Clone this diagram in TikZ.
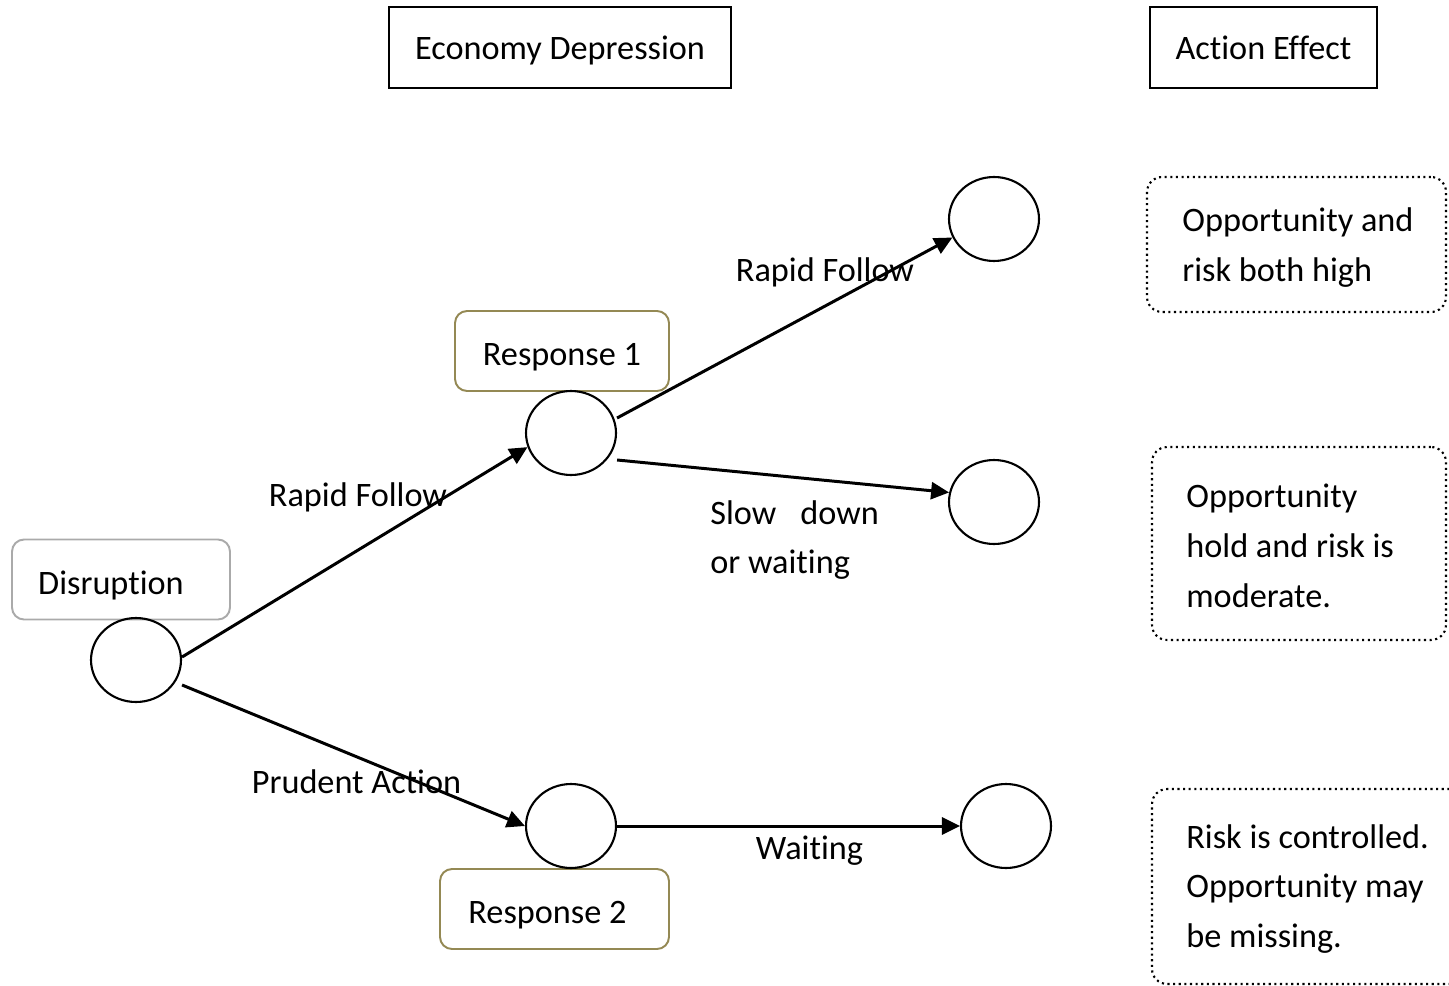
\documentclass[tikz,border=0pt]{standalone}
\usepackage{fontspec}
\setmainfont{Carlito}[Ligatures=NoCommon]
\usetikzlibrary{shapes.geometric,arrows.meta}
\definecolor{olivebox}{RGB}{148,137,84}
\definecolor{graybox}{RGB}{170,170,170}
\newcommand{\nolig}{\kern0pt}

\begin{document}
\begin{tikzpicture}[x=0.02cm,y=-0.02cm,
    every node/.style={font=\fontsize{19.5}{28.4}\selectfont},
    state/.style={draw,ellipse,line width=1.2pt,minimum width=1.8cm,minimum height=1.68cm,inner sep=0pt},
    titlebox/.style={draw,line width=1.1pt,minimum height=1.62cm,text height=15pt,text depth=1pt},
    tagbox/.style={draw,rounded corners=0.24cm,line width=1.1pt,minimum height=1.6cm,text height=17pt,text depth=0pt},
    effectbox/.style={draw,dotted,rounded corners=0.3cm,line width=1.2pt},
    efftext/.style={anchor=west,align=left,inner sep=0pt},
    flow/.style={line width=1.7pt,-{Triangle[length=0.36cm,width=0.34cm]}}]
  \clip (0,0) rectangle (1449,986);

  \node[titlebox,minimum width=6.84cm] (econ) at (560,47.5) {Economy Depression};
  \node[titlebox,minimum width=4.54cm] (effect) at (1263.5,47.5) {Act\nolig ion Effect};

  \node[tagbox,graybox,text=black,minimum width=4.36cm] (disbox) at (121,579.5) {Disruption\hspace{0.4cm}\mbox{}};
  \node[tagbox,olivebox,text=black,minimum width=4.28cm] (r1box) at (562,351) {Response 1};
  \node[tagbox,olivebox,text=black,minimum width=4.58cm] (r2box) at (554.5,909) {Response 2\hspace{0.28cm}\mbox{}};

  \node[state] (dis) at (136,660) {};
  \node[state] (r1) at (571,433) {};
  \node[state] (r2) at (571,826) {};
  \node[state] (e1) at (994,219) {};
  \node[state] (e2) at (994,502) {};
  \node[state] (e3) at (1006,826) {};

  \draw[flow] ([yshift=0.06cm]dis.east) -- (r1.198);
  \draw[flow] ([yshift=-0.5cm]dis.east) -- (r2.180);
  \draw[flow] ([yshift=0.3cm]r1.east) -- (e1.204);
  \draw[flow] ([yshift=-0.54cm]r1.east) -- (e2.168);
  \draw[flow] (r2.east) -- (e3.west);

  \node (l1) at (358,497) {Rapid Follow};
  \node (l2) at (356.5,782) {Prudent Act\nolig ion};
  \node (l3) at (825,272) {Rapid Follow};
  \node[efftext] (l4) at (710,540) {Slow\hspace{0.7em}down\\or wait\nolig ing};
  \node (l5) at (809.5,851) {Wait\nolig ing};

  \node[effectbox,minimum width=5.98cm,minimum height=2.7cm] (e1box) at (1296.5,244.5) {};
  \node[effectbox,minimum width=5.88cm,minimum height=3.86cm] (e2box) at (1299,543.5) {};
  \node[effectbox,minimum width=6.36cm,minimum height=3.9cm] (e3box) at (1311,886.5) {};
  \node[efftext] (e1text) at (1182,248) {Opportunity and\\risk both high};
  \node[efftext] (e2text) at (1186,546) {Opportunity\\hold and risk is\\moderate.};
  \node[efftext] (e3text) at (1186,889) {Risk is controlled.\\Opportunity may\\be missing.};
\end{tikzpicture}
\end{document}
